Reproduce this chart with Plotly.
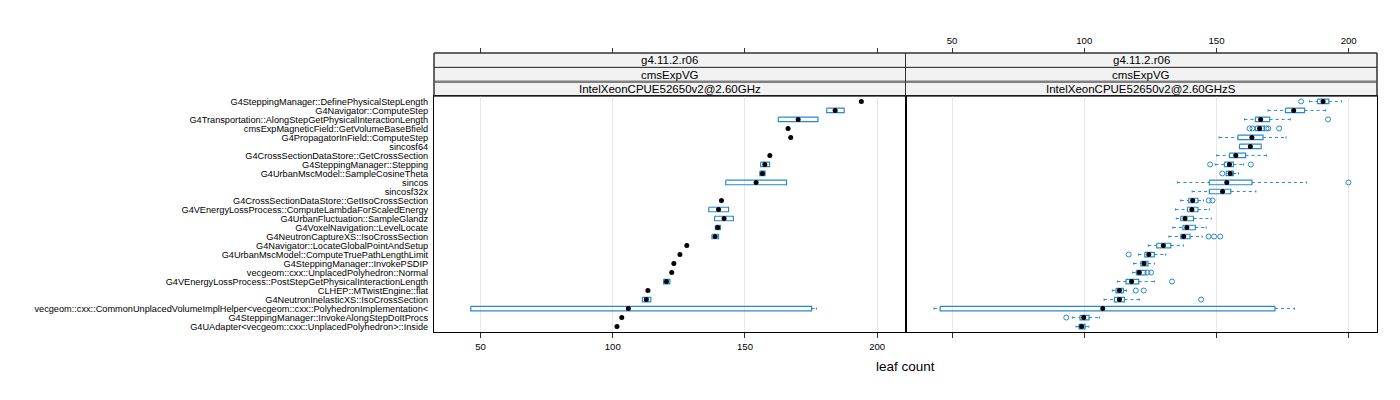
import plotly.graph_objects as go

categories = [
    "G4SteppingManager::DefinePhysicalStepLength",
    "G4Navigator::ComputeStep",
    "G4Transportation::AlongStepGetPhysicalInteractionLength",
    "cmsExpMagneticField::GetVolumeBaseBfield",
    "G4PropagatorInField::ComputeStep",
    "sincosf64",
    "G4CrossSectionDataStore::GetCrossSection",
    "G4SteppingManager::Stepping",
    "G4UrbanMscModel::SampleCosineTheta",
    "sincos",
    "sincosf32x",
    "G4CrossSectionDataStore::GetIsoCrossSection",
    "G4VEnergyLossProcess::ComputeLambdaForScaledEnergy",
    "G4UrbanFluctuation::SampleGlandz",
    "G4VoxelNavigation::LevelLocate",
    "G4NeutronCaptureXS::IsoCrossSection",
    "G4Navigator::LocateGlobalPointAndSetup",
    "G4UrbanMscModel::ComputeTruePathLengthLimit",
    "G4SteppingManager::InvokePSDIP",
    "vecgeom::cxx::UnplacedPolyhedron::Normal",
    "G4VEnergyLossProcess::PostStepGetPhysicalInteractionLength",
    "CLHEP::MTwistEngine::flat",
    "G4NeutronInelasticXS::IsoCrossSection",
    "vecgeom::cxx::CommonUnplacedVolumeImplHelper<vecgeom::cxx::PolyhedronImplementation<",
    "G4SteppingManager::InvokeAlongStepDoItProcs",
    "G4UAdapter<vecgeom::cxx::UnplacedPolyhedron>::Inside",
]

strip1 = "g4.11.2.r06"
strip2 = "cmsExpVG"
panel_names = ["IntelXeonCPUE52650v2@2.60GHz", "IntelXeonCPUE52650v2@2.60GHzS"]

x_ticks = [50, 100, 150, 200]
x_range = [32.4, 210.7]
x_label = "leaf count"

# Panel 1
p1_median = [194.0, 184.1, 170.1, 166.3, 167.3, None, 159.4, 157.5, 156.6, 154.2, None, 141.1, 140.0,
             142.1, 139.7, 138.7, 128.0, 125.4, 123.1, 122.3, 120.3, 113.3, 112.7, 105.9, 103.4, 101.6]
p1_q1 = [None, 180.9, 162.6, None, None, None, None, 155.9, 155.6, 142.7, None, None, 136.3,
         138.5, 138.8, 137.5, None, None, None, None, 119.2, None, 111.2, 46.3, None, None]
p1_q3 = [None, 187.5, 177.6, None, None, None, None, 159.3, 157.6, 165.7, None, None, 143.8,
         145.6, 140.7, 140.0, None, None, None, None, 121.6, None, 114.4, 175.2, None, None]
p1_lo = [None, 180.9, 162.6, None, None, None, None, 155.9, 155.6, 142.7, None, None, 136.3,
         138.5, 138.8, 137.5, None, None, None, None, 119.2, None, 111.2, 46.3, None, None]
p1_hi = [None, 187.5, 177.6, None, None, None, None, 159.3, 157.6, 165.7, None, None, 143.8,
         145.6, 140.7, 140.0, None, None, None, None, 121.6, None, 114.4, 177.0, None, None]
p1_outliers = [[] for _ in categories]

# Panel 2
p2_median = [190.3, 179.2, 166.7, 166.3, 163.4, 162.8, 157.3, 154.9, 155.2, 153.9, 152.3, 141.0, 140.7,
             138.1, 138.8, 137.6, 129.9, 124.4, 122.6, 120.8, 117.9, 113.3, 113.3, 107.0, 99.8, 99.0]
p2_q1 = [188.2, 176.1, 164.7, 164.7, 158.1, 158.7, 154.9, 153.0, 153.7, 147.3, 147.3, 139.5, 139.0,
         136.5, 137.3, 136.5, 127.4, 122.9, 121.4, 119.7, 115.8, 112.0, 111.4, 45.5, 98.4, 98.0]
p2_q3 = [192.5, 183.3, 170.1, 168.1, 167.6, 166.9, 161.0, 156.4, 156.4, 163.4, 155.4, 143.0, 143.0,
         141.3, 142.0, 140.0, 132.7, 126.5, 124.1, 123.3, 120.6, 114.8, 115.2, 172.1, 101.8, 100.3]
p2_lo = [185.2, 169.5, 160.6, 164.7, 151.0, 158.7, 150.1, 149.5, 153.7, 135.2, 140.8, 136.5, 134.5,
         134.8, 133.5, 132.0, 124.2, 120.5, 118.7, 118.3, 112.5, 110.6, 107.5, 43.2, 95.5, 96.9]
p2_hi = [197.3, 191.3, 177.9, 168.1, 176.3, 166.9, 168.9, 160.2, 158.3, 184.0, 164.9, 145.1, 147.3,
         148.0, 146.1, 144.6, 137.5, 130.8, 126.5, 123.3, 126.5, 116.0, 120.8, 179.5, 105.7, 101.7]
p2_outliers = [[182.0], [], [192.2], [162.5, 163.6, 168.9, 169.6, 173.7], [], [], [], [147.6, 163.0],
               [152.2], [199.9], [], [147.1, 148.5], [], [], [], [147.0, 149.1, 151.4], [], [116.8],
               [], [123.9, 125.3], [133.2], [119.5, 122.5], [144.2], [], [93.2], []]

BLUE = "#2a88c8"
FONT = "Liberation Sans, Arial, Helvetica, sans-serif"
BOX_H = 0.25
CAP_H = 0.12

fig = go.Figure()


def add_panel(xa, ya, med, q1, q3, lo, hi, outl):
    bx, by, wx, wy, cx, cy = [], [], [], [], [], []
    ox, oy, mx, my = [], [], [], []
    for i in range(len(categories)):
        y = i + 1
        if q1[i] is not None and q3[i] is not None:
            bx += [q1[i], q3[i], q3[i], q1[i], q1[i], None]
            by += [y - BOX_H, y - BOX_H, y + BOX_H, y + BOX_H, y - BOX_H, None]
            if lo[i] is not None and lo[i] < q1[i]:
                wx += [lo[i], q1[i], None]
                wy += [y, y, None]
                cx += [lo[i], lo[i], None]
                cy += [y - CAP_H, y + CAP_H, None]
            if hi[i] is not None and hi[i] > q3[i]:
                wx += [q3[i], hi[i], None]
                wy += [y, y, None]
                cx += [hi[i], hi[i], None]
                cy += [y - CAP_H, y + CAP_H, None]
        for v in outl[i]:
            ox.append(v)
            oy.append(y)
        if med[i] is not None:
            mx.append(med[i])
            my.append(y)
    common = dict(xaxis=xa, yaxis=ya, showlegend=False, hoverinfo="skip")
    fig.add_trace(go.Scatter(x=wx, y=wy, mode="lines",
                             line=dict(color=BLUE, width=1, dash="3px,3px"), **common))
    fig.add_trace(go.Scatter(x=cx, y=cy, mode="lines",
                             line=dict(color=BLUE, width=1), **common))
    fig.add_trace(go.Scatter(x=bx, y=by, mode="lines",
                             line=dict(color=BLUE, width=1.2), **common))
    fig.add_trace(go.Scatter(x=ox, y=oy, mode="markers",
                             marker=dict(symbol="circle-open", size=5, color=BLUE,
                                         line=dict(color=BLUE, width=1)), **common))
    fig.add_trace(go.Scatter(x=mx, y=my, mode="markers",
                             marker=dict(symbol="circle", size=5, color="black"), **common))


add_panel("x", "y", p1_median, p1_q1, p1_q3, p1_lo, p1_hi, p1_outliers)
add_panel("x2", "y2", p2_median, p2_q1, p2_q3, p2_lo, p2_hi, p2_outliers)

# dummy traces for top axes
fig.add_trace(go.Scatter(x=[None], y=[None], xaxis="x3", yaxis="y", showlegend=False, hoverinfo="skip"))
fig.add_trace(go.Scatter(x=[None], y=[None], xaxis="x4", yaxis="y2", showlegend=False, hoverinfo="skip"))

# the page body has an ~8px default margin; compensate so the plot lands where the reference has it
OFF = 8
W, H = 1400, 400
ML, MR, MT, MB = 434 - OFF, 23 + OFF, 53 - OFF, 68 + OFF
ph = H - MT - MB
panel_top = (ph - (332 - 96)) / ph
panel_top = (332 - 96) / ph
strip_h = (1 - panel_top) / 3
D = 0.5

TICKFONT = dict(size=9.6, color="black", family=FONT)
axis_common = dict(range=x_range, tickvals=x_ticks, ticks="outside", ticklen=5,
                   tickcolor="#333", showgrid=True, gridcolor="#e8e8e8", gridwidth=1,
                   zeroline=False, showline=True, linecolor="black", linewidth=1, mirror=True,
                   automargin=False, tickfont=TICKFONT)
top_common = dict(side="top", anchor="free", position=1, range=x_range, tickvals=x_ticks,
                  ticks="outside", ticklen=5, tickcolor="#333", showgrid=False, zeroline=False,
                  showline=False, automargin=False, tickfont=TICKFONT)
ny = len(categories)
yaxis_common = dict(range=[ny + 0.6, 0.4], domain=[0, panel_top], showgrid=False, zeroline=False,
                    showline=True, linecolor="black", linewidth=1, mirror=True, automargin=False,
                    tickvals=list(range(1, ny + 1)))

fig.update_layout(
    width=W, height=H,
    margin=dict(l=ML, r=MR, t=MT, b=MB, pad=0, autoexpand=False),
    paper_bgcolor="white", plot_bgcolor="white",
    font=dict(family=FONT, color="black"),
    xaxis=dict(domain=[0, D], anchor="y", **axis_common),
    xaxis2=dict(domain=[D, 1], anchor="y2", showticklabels=False, **axis_common),
    xaxis3=dict(domain=[0, D], overlaying="x", matches="x", showticklabels=False, **top_common),
    xaxis4=dict(domain=[D, 1], overlaying="x2", matches="x2", showticklabels=True, **top_common),
    yaxis=dict(anchor="x", ticktext=categories, ticks="outside", ticklen=3,
               tickcolor="rgba(0,0,0,0)", tickfont=dict(size=9.2, color="black", family=FONT),
               **yaxis_common),
    yaxis2=dict(anchor="x2", matches="y", showticklabels=False, ticks="", **yaxis_common),
)

shapes = []
annotations = []
for k, (x0, x1) in enumerate([(0, D), (D, 1)]):
    labels = [panel_names[k], strip2, strip1]
    for j in range(3):
        y0 = panel_top + j * strip_h
        y1 = panel_top + (j + 1) * strip_h
        shapes.append(dict(type="rect", xref="paper", yref="paper", x0=x0, x1=x1, y0=y0, y1=y1,
                           fillcolor="#f2f2f2", line=dict(color="#333", width=1), layer="below"))
        annotations.append(dict(text=labels[j], xref="paper", yref="paper", x=(x0 + x1) / 2,
                                y=(y0 + y1) / 2, showarrow=False, xanchor="center", yanchor="middle",
                                font=dict(size=11.5, color="black", family=FONT)))
    yl = panel_top + strip_h
    shapes.append(dict(type="line", xref="paper", yref="paper", x0=x0, x1=x1, y0=yl, y1=yl,
                       line=dict(color="#808080", width=2.5)))
    shapes.append(dict(type="rect", xref="paper", yref="paper", x0=x0, x1=x1, y0=panel_top, y1=1,
                       line=dict(color="#333", width=1), fillcolor="rgba(0,0,0,0)"))

annotations.append(dict(text=x_label, xref="paper", yref="paper", x=0.5, y=0, yshift=-34,
                        showarrow=False, xanchor="center", yanchor="middle",
                        font=dict(size=13.5, color="black", family=FONT)))
fig.update_layout(shapes=shapes, annotations=annotations)

fig.write_html("out.html")
